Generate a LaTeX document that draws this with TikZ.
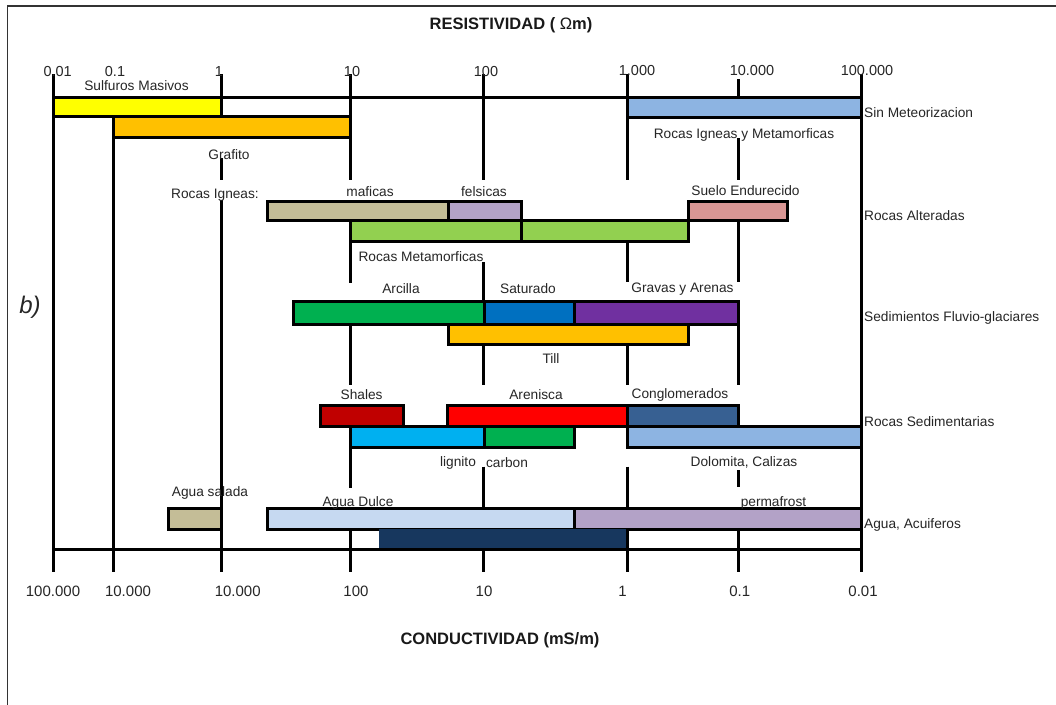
\documentclass[tikz,border=0pt]{standalone}
\usepackage{fontspec}
\setmainfont{Liberation Sans}
\begin{document}
\begin{tikzpicture}[x=1pt,y=-1pt,
  lbl/.style={font=\fontsize{13.7}{16}\selectfont, inner sep=0pt, text=black!85},
  lblw/.style={lbl, anchor=west},
  ticklbl/.style={font=\fontsize{14.5}{17}\selectfont, inner sep=0pt, text=black!85},
  botlbl/.style={font=\fontsize{15}{17}\selectfont, inner sep=0pt, text=black!85},
  ttl/.style={font=\fontsize{16.5}{19}\selectfont\bfseries, inner sep=0pt, text=black!90},
  vline/.style={line width=3pt, black},
  hline/.style={line width=3pt, black},
  bar/.style={draw=black, line width=3pt},
  frame/.style={line width=1.2pt, black!80}
]
\useasboundingbox (0,0) rectangle (1056,704);
\fill[white] (0,0) rectangle (1056,704);
\draw[frame] (7.6,6) rectangle (1100,760);

% colours
\definecolor{cyel}{HTML}{FFFF00}
\definecolor{corg}{HTML}{FFC000}
\definecolor{clbl}{HTML}{8DB4E2}
\definecolor{ctan}{HTML}{C4BD97}
\definecolor{clav}{HTML}{B3A2C7}
\definecolor{clgr}{HTML}{92D050}
\definecolor{cpnk}{HTML}{D99694}
\definecolor{cgrn}{HTML}{00B050}
\definecolor{cblu}{HTML}{0070C0}
\definecolor{cpur}{HTML}{7030A0}
\definecolor{cdrd}{HTML}{C00000}
\definecolor{cred}{HTML}{FF0000}
\definecolor{cstb}{HTML}{376092}
\definecolor{ccyn}{HTML}{00B0F0}
\definecolor{cpal}{HTML}{C6D9F1}
\definecolor{cnav}{HTML}{17375E}

% vertical lines
\draw[vline] (53,74) -- (53,572);
\draw[vline] (113,116.7) -- (113,572);
\draw[vline] (221.4,74) -- (221.4,137) (221.4,158) -- (221.4,180) (221.4,200) -- (221.4,572);
\draw[vline] (350.5,74) -- (350.5,180) (350.5,220.7) -- (350.5,283) (350.5,324) -- (350.5,385)
  (350.5,426.7) -- (350.5,488) (350.5,529.3) -- (350.5,572);
\draw[vline] (483,74) -- (483,180) (483,262) -- (483,385) (483,405) -- (483,447) (483,466.7) -- (483,572);
\draw[vline] (627,74) -- (627,180) (627,241) -- (627,282) (627,344.3) -- (627,385)
  (627,405) -- (627,447.3) (627,466.7) -- (627,572);
\draw[vline] (738,79) -- (738,97.7) (738,138) -- (738,180) (738,220.7) -- (738,282)
  (738,301.7) -- (738,385) (738,405) -- (738,426.7) (738,470) -- (738,487) (738,529.3) -- (738,572);
\draw[vline] (861,74) -- (861,572);

% row 1
\draw[hline] (53,97.7) -- (861,97.7);
\draw[bar, fill=cyel] (53,97.7) rectangle (221.4,116.7);
\draw[bar, fill=corg] (113,116.7) rectangle (350.5,137.3);
\draw[bar, fill=clbl] (627,97.7) rectangle (861,117.3);

% row 2
\draw[bar, fill=ctan] (267,201.7) rectangle (448,220.7);
\draw[bar, fill=clav] (448,201.7) rectangle (521,220.7);
\draw[bar, fill=cpnk] (688.5,201.7) rectangle (787.7,220.7);
\draw[bar, fill=clgr] (350.5,220.7) rectangle (521,241);
\draw[bar, fill=clgr] (521,220.7) rectangle (688.5,241);

% row 3
\draw[bar, fill=cgrn] (293,301.7) rectangle (484,324);
\draw[bar, fill=cblu] (484,301.7) rectangle (574.7,324);
\draw[bar, fill=cpur] (574.7,301.7) rectangle (738,324);
\draw[bar, fill=corg] (448,324) rectangle (688.5,344.3);

% row 4
\draw[bar, fill=cdrd] (320,405) rectangle (403,426.7);
\draw[bar, fill=cred] (447,405) rectangle (627,426.7);
\draw[bar, fill=cstb] (627,405) rectangle (738,426.7);
\draw[bar, fill=ccyn] (350.5,426.7) rectangle (484,447.3);
\draw[bar, fill=cgrn] (484,426.7) rectangle (574.7,447.3);
\draw[bar, fill=clbl] (627,426.7) rectangle (861,447.3);

% row 5
\draw[bar, fill=ctan] (168.7,508.3) rectangle (221.4,529.3);
\draw[bar, fill=cpal] (267,508.3) rectangle (574.7,529.3);
\draw[bar, fill=clav] (574.7,508.3) rectangle (861,529.3);
\fill[cnav] (378.8,529.3) rectangle (625.5,548.3);
\draw[hline] (53,549) -- (861,549);

% title and scale labels
\node[ttl] (tres) at (511,25) {RESISTIVIDAD ( {\mdseries Ω}m)};
\node[ticklbl] (r1) at (57.7,71.5) {0.01};
\node[ticklbl] (r2) at (115,71.5) {0.1};
\node[ticklbl] (r3) at (219,71.5) {1};
\node[ticklbl] (r4) at (352,71.5) {10};
\node[ticklbl] (r5) at (486,71.5) {100};
\node[ticklbl] (r6) at (637,71) {1.000};
\node[ticklbl] (r7) at (752,71) {10.000};
\node[ticklbl] (r8) at (867,71) {100.000};

\node[botlbl] (c1) at (53,591) {100.000};
\node[botlbl] (c2) at (128,591) {10.000};
\node[botlbl] (c3) at (237.7,591) {10.000};
\node[botlbl] (c4) at (356,591) {100};
\node[botlbl] (c5) at (484,591) {10};
\node[botlbl] (c6) at (622.6,591) {1};
\node[botlbl] (c7) at (739.7,591) {0.1};
\node[botlbl] (c8) at (863,591) {0.01};
\node[ttl] (tcon) at (500,640) {CONDUCTIVIDAD (mS/m)};

\node[font=\fontsize{24}{28}\selectfont\itshape, inner sep=0pt, text=black!85] (b) at (30,307) {b)};

% bar labels
\node[lbl] (sulf) at (136.5,85.5) {Sulfuros Masivos};
\node[lbl] (graf) at (229,155) {Grafito};
\node[lbl] (rim) at (744,135) {Rocas Igneas y Metamorficas};
\node[lblw] (sinm) at (864,113) {Sin Meteorizacion};

\node[lbl] (rig) at (215,195) {Rocas Igneas:};
\node[lbl] (maf) at (370,192) {maficas};
\node[lbl] (fel) at (484,192) {felsicas};
\node[lbl] (sue) at (745.5,191) {Suelo Endurecido};
\node[lblw] (ralt) at (864,216) {Rocas Alteradas};
\node[lbl] (rmet) at (421,257) {Rocas Metamorficas};

\node[lbl] (arc) at (401,289) {Arcilla};
\node[lbl] (sat) at (528,289) {Saturado};
\node[lbl] (grav) at (682.5,289) {Gravas y Arenas};
\node[lblw] (sed) at (864,318) {Sedimientos Fluvio-glaciares};
\node[lbl] (till) at (551,359) {Till};

\node[lbl] (sha) at (361.6,395) {Shales};
\node[lbl] (are) at (536,395) {Arenisca};
\node[lbl] (con) at (680,395) {Conglomerados};
\node[lblw] (rsed) at (864,421.7) {Rocas Sedimentarias};
\node[lbl] (lig) at (458,462.7) {lignito};
\node[lbl] (car) at (507,462.7) {carbon};
\node[lbl] (dol) at (744,462.7) {Dolomita, Calizas};

\node[lbl] (asal) at (210,492.7) {Agua salada};
\node[lbl] (adul) at (358,502.7) {Agua Dulce};
\node[lbl] (perm) at (773.5,502.7) {permafrost};
\node[lblw] (acu) at (864,525) {Agua, Acuiferos};
\end{tikzpicture}
\end{document}
